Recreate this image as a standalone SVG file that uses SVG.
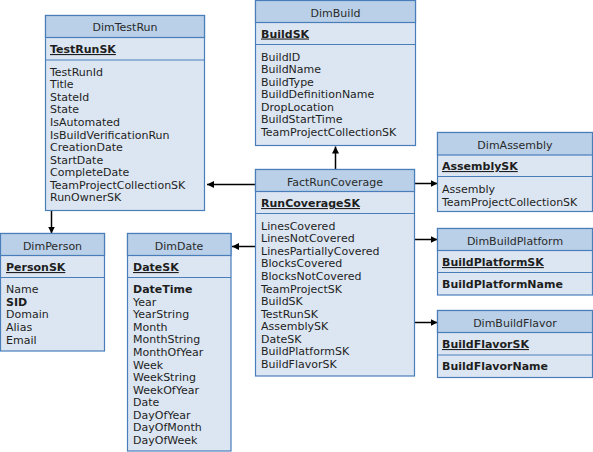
<svg xmlns="http://www.w3.org/2000/svg" width="593" height="452" viewBox="0 0 593 452">
<style>
.body{fill:#dce6f2;stroke:#4a7ebb;stroke-width:1.2}
.hdr{fill:#b9d0e8;stroke:#4a7ebb;stroke-width:1.2}
.sep{stroke:#4a7ebb;stroke-width:1.2}
text{font-family:"DejaVu Sans",Verdana,sans-serif;font-size:11px;fill:#1e1e1e}
.t{text-anchor:middle;fill:#2a2a2a}
.k{font-weight:bold;text-decoration:underline}
.b{font-weight:bold}
.c{stroke:#000;stroke-width:1.5;fill:none;marker-end:url(#ah)}
</style>
<defs>
<marker id="ah" markerUnits="userSpaceOnUse" markerWidth="8" markerHeight="8" refX="7" refY="3.5" orient="auto">
<polygon points="0,0 7,3.5 0,7" fill="#000"/>
</marker>
</defs>
<g id="connectors">
<path class="c" d="M255,184.5 L207,184.5"/>
<path class="c" d="M335.5,169 L335.5,146.5"/>
<path class="c" d="M415,183.5 L437.5,183.5"/>
<path class="c" d="M255,246.5 L232,246.5"/>
<path class="c" d="M415,239.5 L437.5,239.5"/>
<path class="c" d="M415,322.5 L437.5,322.5"/>
<path class="c" d="M51.5,211 L51.5,233.5"/>
</g>
<g id="DimTestRun">
<rect class="body" x="45.5" y="15.5" width="159" height="195"/>
<rect class="hdr" x="45.5" y="15.5" width="159" height="22"/>
<line class="sep" x1="45.5" y1="60" x2="204.5" y2="60"/>
<text class="t" x="125" y="31">DimTestRun</text>
<text class="k" x="50" y="53">TestRunSK</text>
<text x="50" y="75.6">TestRunId</text>
<text x="50" y="88.2">Title</text>
<text x="50" y="100.8">StateId</text>
<text x="50" y="113.3">State</text>
<text x="50" y="125.9">IsAutomated</text>
<text x="50" y="138.5">IsBuildVerificationRun</text>
<text x="50" y="151.1">CreationDate</text>
<text x="50" y="163.7">StartDate</text>
<text x="50" y="176.2">CompleteDate</text>
<text x="50" y="188.8">TeamProjectCollectionSK</text>
<text x="50" y="201.4">RunOwnerSK</text>
</g>
<g id="DimBuild">
<rect class="body" x="255.5" y="0.5" width="160" height="145"/>
<rect class="hdr" x="255.5" y="0.5" width="160" height="22"/>
<line class="sep" x1="255.5" y1="44.5" x2="415.5" y2="44.5"/>
<text class="t" x="335.5" y="16.5">DimBuild</text>
<text class="k" x="261" y="37.5">BuildSK</text>
<text x="261" y="60.6">BuildID</text>
<text x="261" y="73.2">BuildName</text>
<text x="261" y="85.7">BuildType</text>
<text x="261" y="98.3">BuildDefinitionName</text>
<text x="261" y="110.8">DropLocation</text>
<text x="261" y="123.4">BuildStartTime</text>
<text x="261" y="136">TeamProjectCollectionSK</text>
</g>
<g id="DimAssembly">
<rect class="body" x="437.5" y="132.5" width="155" height="79"/>
<rect class="hdr" x="437.5" y="132.5" width="155" height="22.5"/>
<line class="sep" x1="437.5" y1="176.5" x2="592.5" y2="176.5"/>
<text class="t" x="515" y="149">DimAssembly</text>
<text class="k" x="442" y="170">AssemblySK</text>
<text x="442" y="193">Assembly</text>
<text x="442" y="205.6">TeamProjectCollectionSK</text>
</g>
<g id="FactRunCoverage">
<rect class="body" x="255.5" y="169.5" width="159" height="206.5"/>
<rect class="hdr" x="255.5" y="169.5" width="159" height="22"/>
<line class="sep" x1="255.5" y1="213.5" x2="414.5" y2="213.5"/>
<text class="t" x="335" y="185.5">FactRunCoverage</text>
<text class="k" x="261" y="207">RunCoverageSK</text>
<text x="261" y="229.7">LinesCovered</text>
<text x="261" y="242.3">LinesNotCovered</text>
<text x="261" y="254.8">LinesPartiallyCovered</text>
<text x="261" y="267.4">BlocksCovered</text>
<text x="261" y="280">BlocksNotCovered</text>
<text x="261" y="292.6">TeamProjectSK</text>
<text x="261" y="305.1">BuildSK</text>
<text x="261" y="317.7">TestRunSK</text>
<text x="261" y="330.3">AssemblySK</text>
<text x="261" y="342.8">DateSK</text>
<text x="261" y="355.4">BuildPlatformSK</text>
<text x="261" y="368">BuildFlavorSK</text>
</g>
<g id="DimBuildPlatform">
<rect class="body" x="437.5" y="228.5" width="155" height="66.5"/>
<rect class="hdr" x="437.5" y="228.5" width="155" height="22"/>
<line class="sep" x1="437.5" y1="272.5" x2="592.5" y2="272.5"/>
<text class="t" x="515" y="245">DimBuildPlatform</text>
<text class="k" x="442" y="266">BuildPlatformSK</text>
<text class="b" x="442" y="288">BuildPlatformName</text>
</g>
<g id="DimBuildFlavor">
<rect class="body" x="437.5" y="310.5" width="155" height="67"/>
<rect class="hdr" x="437.5" y="310.5" width="155" height="22"/>
<line class="sep" x1="437.5" y1="355" x2="592.5" y2="355"/>
<text class="t" x="515" y="327">DimBuildFlavor</text>
<text class="k" x="442" y="348">BuildFlavorSK</text>
<text class="b" x="442" y="370">BuildFlavorName</text>
</g>
<g id="DimPerson">
<rect class="body" x="0.5" y="233.5" width="104" height="117.5"/>
<rect class="hdr" x="0.5" y="233.5" width="104" height="22"/>
<line class="sep" x1="0.5" y1="277.5" x2="104.5" y2="277.5"/>
<text class="t" x="52.5" y="249.5">DimPerson</text>
<text class="k" x="6" y="271">PersonSK</text>
<text x="6" y="293.3">Name</text>
<text class="b" x="6" y="305.9">SID</text>
<text x="6" y="318.4">Domain</text>
<text x="6" y="331">Alias</text>
<text x="6" y="343.6">Email</text>
</g>
<g id="DimDate">
<rect class="body" x="127.5" y="233.5" width="103.5" height="217.5"/>
<rect class="hdr" x="127.5" y="233.5" width="103.5" height="22"/>
<line class="sep" x1="127.5" y1="277.5" x2="231" y2="277.5"/>
<text class="t" x="179" y="249.5">DimDate</text>
<text class="k" x="133" y="271">DateSK</text>
<text class="b" x="133" y="293">DateTime</text>
<text x="133" y="305.6">Year</text>
<text x="133" y="318.2">YearString</text>
<text x="133" y="330.7">Month</text>
<text x="133" y="343.3">MonthString</text>
<text x="133" y="355.9">MonthOfYear</text>
<text x="133" y="368.5">Week</text>
<text x="133" y="381">WeekString</text>
<text x="133" y="393.6">WeekOfYear</text>
<text x="133" y="406.2">Date</text>
<text x="133" y="418.8">DayOfYear</text>
<text x="133" y="431.3">DayOfMonth</text>
<text x="133" y="443.9">DayOfWeek</text>
</g>
</svg>
